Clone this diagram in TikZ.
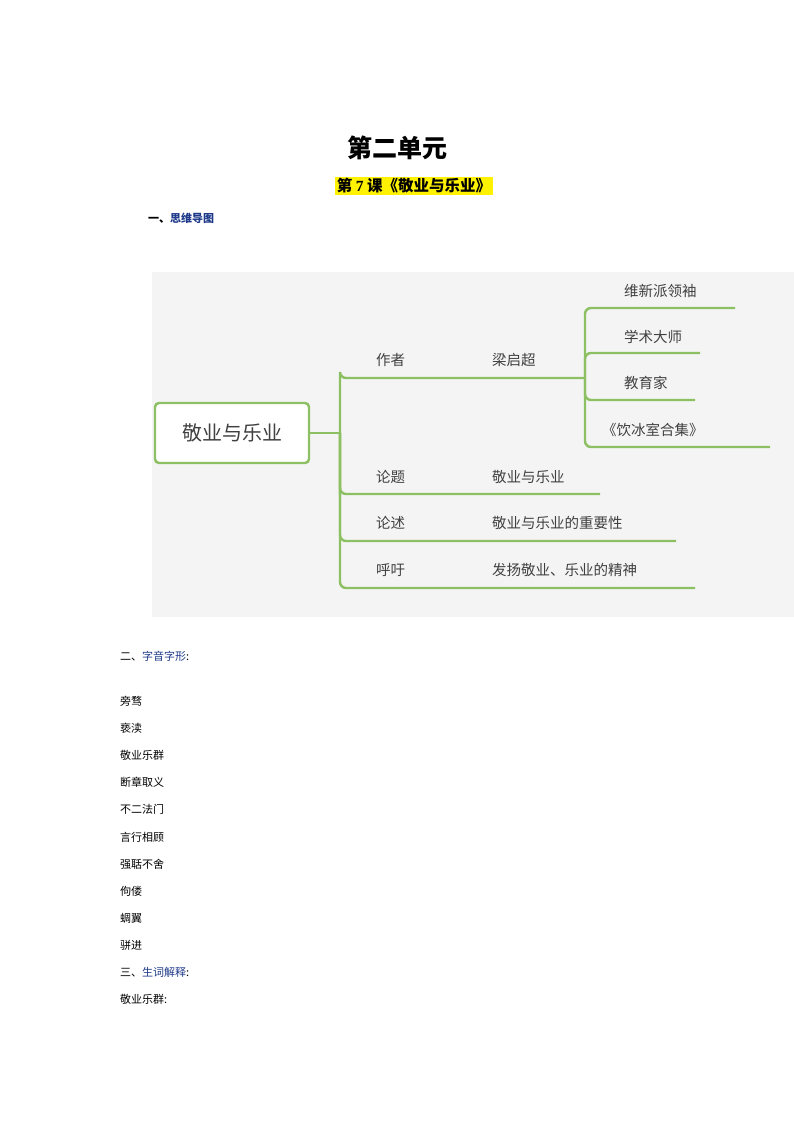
\documentclass[tikz,border=0pt]{standalone}
\usepackage{fontspec}
\setmainfont{Liberation Serif}
\newfontfamily\cjk{Noto Sans CJK SC}
\definecolor{gr}{HTML}{8CC063}
\definecolor{mapbg}{HTML}{F4F4F4}
\definecolor{hd}{HTML}{1F3A8A}
\definecolor{tx}{HTML}{404040}
\tikzset{br/.style={draw=gr,line width=2.4pt,rounded corners=6pt},
 mt/.style={anchor=west,text=tx,font=\cjk\fontsize{14.5}{14.5}\selectfont,inner sep=0},
 lt/.style={anchor=west,inner sep=0,font=\cjk\fontsize{11}{11}\selectfont}}
\begin{document}
\begin{tikzpicture}[x=1pt,y=-1pt]
\fill[white] (0,0) rectangle (794,1123);
\useasboundingbox (0,0) rectangle (794,1123);
\node[inner sep=0,font=\cjk\bfseries\fontsize{25}{25}\selectfont] (t1) at (397,148) {第二单元};
\node[inner sep=1.5pt,fill=yellow,font=\cjk\bfseries\fontsize{15.5}{15.5}\selectfont] (t2) at (414,186) {第 \textrm{7} 课《敬业与乐业》};
\node[lt,font=\cjk\bfseries\fontsize{11}{11}\selectfont] (h1) at (148,218) {一、\textcolor{hd}{思维导图}};
\fill[mapbg] (152,272) rectangle (794,617);
\node[draw=gr,line width=2.4pt,rounded corners=4pt,minimum width=154pt,minimum height=60pt,fill=white,text=tx,font=\cjk\fontsize{20}{20}\selectfont] (root) at (232,433) {敬业与乐业};
\coordinate (j) at (340,433);
\draw[br] (root.east) -- (j);
\draw[br] (340,495) |- (340,378) -- (585,378);
\draw[br] (j) |- (600,494);
\draw[br] (j) |- (676,541);
\draw[br] (j) |- (695,588);
\draw[br] (585,378) |- (735,308);
\draw[br] (585,378) |- (700,353);
\draw[br] (585,378) |- (695,400);
\draw[br] (585,378) |- (770,447);
\node[mt] (a1) at (376,360) {作者};
\node[mt] (a2) at (492,360) {梁启超};
\node[mt] (b1) at (624,291) {维新派领袖};
\node[mt] (b2) at (624,337) {学术大师};
\node[mt] (b3) at (624,383) {教育家};
\node[mt] (b4) at (602,430) {《饮冰室合集》};
\node[mt] (c1) at (376,477) {论题};
\node[mt] (c2) at (492,477) {敬业与乐业};
\node[mt] (d1) at (376,523) {论述};
\node[mt] (d2) at (492,523) {敬业与乐业的重要性};
\node[mt] (e1) at (376,570) {呼吁};
\node[mt] (e2) at (492,570) {发扬敬业、乐业的精神};
\node[lt] (h2) at (120,656) {二、\textcolor{hd}{字音字形}:};
\node[lt] (w1) at (120,701) {旁骛};
\node[lt] (w2) at (120,728) {亵渎};
\node[lt] (w3) at (120,755) {敬业乐群};
\node[lt] (w4) at (120,782) {断章取义};
\node[lt] (w5) at (120,809) {不二法门};
\node[lt] (w6) at (120,837) {言行相顾};
\node[lt] (w7) at (120,864) {强聒不舍};
\node[lt] (w8) at (120,891) {佝偻};
\node[lt] (w9) at (120,918) {蜩翼};
\node[lt] (w10) at (120,945) {骈进};
\node[lt] (h3) at (120,972) {三、\textcolor{hd}{生词解释}:};
\node[lt] (w11) at (120,999) {敬业乐群:};
\end{tikzpicture}
\end{document}
